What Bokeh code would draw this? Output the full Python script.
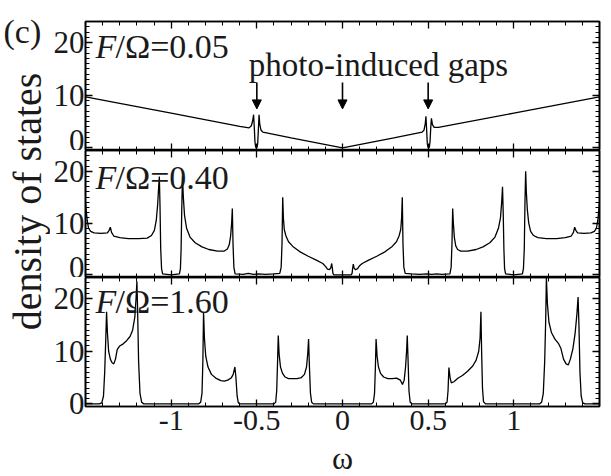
import math
from bokeh.plotting import figure
from bokeh.models import (Label, Arrow, NormalHead, LinearAxis, FixedTicker, Range1d,
                          CustomLabelingPolicy)
from bokeh.layouts import row, column
from bokeh.embed import file_html
from bokeh.resources import INLINE

# ---------------- data ----------------
x_major = [-1, -0.5, 0, 0.5, 1]
x_major_labels = ["-1", "-0.5", "0", "0.5", "1"]
x_minor = [round(-1.4 + 0.1 * i, 1) for i in range(29)]
y_major = [0, 10, 20]
y_minor = list(range(0, 25))

panel_ratios = ["0.05", "0.40", "1.60"]

# panel 1: F/Omega = 0.05
p1_omega = [-1.5, -1.0, -0.6, -0.545, -0.532, -0.524, -0.519, -0.515, -0.511, -0.507, -0.503,
            -0.499, -0.495, -0.491, -0.487, -0.483, -0.476, -0.465, -0.3, 0.0, 0.3, 0.465,
            0.476, 0.483, 0.487, 0.491, 0.495, 0.499, 0.503, 0.507, 0.511, 0.515, 0.519,
            0.525, 0.535, 0.56, 1.0, 1.5]
p1_dos = [9.7, 6.6, 4.1, 3.8, 4.2, 5.2, 6.3, 4.0, 1.2, 0.2, 0.0,
          0.1, 0.8, 3.5, 6.3, 4.5, 3.4, 3.0, 1.9, 0.0, 1.9, 3.0,
          3.4, 4.6, 6.0, 3.5, 0.8, 0.1, 0.0, 0.2, 1.2, 3.8, 5.6,
          4.4, 3.9, 3.9, 6.6, 9.7]

# panel 2: F/Omega = 0.40
p2_omega = [-1.5, -1.496, -1.49, -1.482, -1.47, -1.45, -1.41, -1.372, -1.362, -1.355, -1.348,
            -1.335, -1.30, -1.25, -1.19, -1.14, -1.115, -1.098, -1.087, -1.079, -1.073, -1.069,
            -1.065, -1.061, -1.056, -1.05, -1.0, -0.952, -0.946, -0.942, -0.938, -0.934, -0.929,
            -0.922, -0.91, -0.89, -0.86, -0.82, -0.78, -0.73, -0.69, -0.672, -0.661, -0.653,
            -0.647, -0.643, -0.639, -0.634, -0.627, -0.58, -0.55, -0.52, -0.49, -0.45, -0.40,
            -0.366, -0.358, -0.353, -0.349, -0.345, -0.34, -0.33, -0.315, -0.29, -0.25, -0.2,
            -0.15, -0.115, -0.098, -0.088, -0.076, -0.068, -0.063, -0.059, -0.056, -0.05, 0.0,
            0.05, 0.056, 0.059, 0.063, 0.068, 0.076, 0.088, 0.098, 0.115, 0.15, 0.2,
            0.25, 0.29, 0.315, 0.33, 0.34, 0.345, 0.349, 0.353, 0.358, 0.366, 0.40,
            0.45, 0.49, 0.52, 0.55, 0.58, 0.627, 0.634, 0.639, 0.643, 0.647, 0.653,
            0.661, 0.672, 0.69, 0.73, 0.78, 0.82, 0.86, 0.89, 0.91, 0.922, 0.929,
            0.934, 0.938, 0.942, 0.946, 0.952, 1.0, 1.05, 1.056, 1.061, 1.065, 1.069,
            1.073, 1.079, 1.087, 1.098, 1.115, 1.14, 1.19, 1.25, 1.30, 1.335, 1.348,
            1.355, 1.362, 1.372, 1.41, 1.45, 1.47, 1.482, 1.49, 1.496, 1.5]
p2_dos = [14.0, 12.5, 10.5, 9.0, 8.4, 8.1, 8.0, 8.1, 8.6, 9.2, 8.2,
          7.5, 7.2, 7.0, 7.0, 7.1, 7.6, 8.6, 10.5, 13.5, 17.0, 19.0,
          13.0, 5.0, 1.2, 0.2, 0.0, 0.2, 1.2, 5.0, 13.0, 19.0, 15.0,
          11.5, 9.0, 7.3, 6.2, 5.4, 4.9, 4.6, 4.6, 5.0, 5.8, 7.5,
          10.0, 12.8, 6.0, 1.5, 0.2, 0.1, 0.3, 0.1, 0.2, 0.1, 0.2,
          0.3, 1.5, 6.0, 15.0, 11.0, 8.8, 7.5, 6.4, 5.5, 4.5, 3.6,
          2.8, 2.2, 1.6, 1.1, 1.0, 1.4, 2.2, 1.2, 0.3, 0.0, 0.0,
          0.0, 0.3, 1.2, 2.1, 1.3, 1.0, 1.2, 1.7, 2.2, 2.8, 3.6,
          4.5, 5.5, 6.4, 7.5, 8.8, 11.0, 15.0, 6.0, 1.5, 0.3, 0.2,
          0.1, 0.2, 0.1, 0.2, 0.1, 0.2, 1.5, 6.0, 12.8, 10.0, 7.2,
          5.6, 4.9, 4.6, 4.6, 4.9, 5.4, 6.2, 7.3, 9.0, 11.0, 14.0,
          17.0, 12.0, 5.0, 1.2, 0.2, 0.0, 0.2, 1.2, 5.0, 14.0, 20.0,
          16.0, 12.5, 10.0, 8.4, 7.6, 7.2, 7.0, 7.0, 7.2, 7.5, 8.2,
          9.2, 8.6, 8.1, 8.0, 8.1, 8.4, 9.0, 10.5, 12.5, 14.0]

# panel 3: F/Omega = 1.60
p3_omega = [-1.5, -1.42, -1.405, -1.395, -1.388, -1.382, -1.377, -1.372, -1.365, -1.355, -1.345,
            -1.335, -1.325, -1.315, -1.30, -1.28, -1.26, -1.24, -1.225, -1.212, -1.205, -1.2,
            -1.196, -1.19, -1.182, -1.172, -1.16,
            -0.84, -0.828, -0.82, -0.815, -0.811, -0.806, -0.798, -0.785, -0.765, -0.74, -0.71,
            -0.69, -0.67, -0.65, -0.638, -0.628, -0.622, -0.615, -0.608, -0.6,
            -0.4, -0.39, -0.384, -0.379, -0.375, -0.37, -0.362, -0.35, -0.335, -0.315, -0.29,
            -0.265, -0.24, -0.222, -0.21, -0.203, -0.198, -0.193, -0.187, -0.18, -0.17,
            0.17, 0.18, 0.187, 0.192, 0.196, 0.202, 0.21, 0.222, 0.24, 0.265, 0.29,
            0.315, 0.338, 0.35, 0.36, 0.368, 0.374, 0.378, 0.383, 0.388, 0.395, 0.405,
            0.6, 0.61, 0.616, 0.621, 0.628, 0.635, 0.65, 0.675, 0.7, 0.73, 0.76,
            0.78, 0.795, 0.803, 0.808, 0.812, 0.817, 0.823, 0.835,
            1.15, 1.162, 1.172, 1.18, 1.186, 1.19, 1.196, 1.205, 1.22, 1.24, 1.26,
            1.275, 1.29, 1.305, 1.318, 1.33, 1.345, 1.358, 1.368, 1.375, 1.38, 1.386,
            1.393, 1.402, 1.415, 1.5]
p3_dos = [0.0, 0.0, 0.2, 1.5, 6.0, 12.0, 17.5, 13.5, 10.0, 8.5, 7.8,
          7.6, 8.5, 10.3, 11.0, 11.4, 12.0, 12.8, 14.0, 16.5, 20.0, 23.3,
          18.0, 8.0, 2.0, 0.3, 0.0,
          0.0, 0.3, 2.0, 8.0, 17.5, 12.5, 9.0, 7.0, 5.6, 4.9, 4.4,
          4.3, 4.5, 4.9, 5.6, 7.0, 5.0, 1.5, 0.2, 0.0,
          0.0, 0.3, 2.5, 8.0, 13.0, 9.5, 7.0, 5.8, 5.1, 4.8, 4.8,
          4.8, 5.0, 5.6, 7.0, 9.5, 12.3, 7.0, 2.0, 0.3, 0.0,
          0.0, 0.3, 2.0, 7.0, 12.3, 9.0, 7.0, 5.8, 5.1, 4.8, 4.8,
          4.9, 4.5, 3.7, 4.5, 7.0, 10.0, 13.0, 8.0, 2.5, 0.3, 0.0,
          0.0, 0.3, 2.5, 6.9, 5.0, 4.0, 4.2, 4.9, 5.4, 6.2, 7.2,
          8.3, 10.0, 12.5, 17.5, 10.0, 3.0, 0.4, 0.0,
          0.0, 0.3, 2.0, 8.0, 16.0, 24.0, 19.0, 15.5, 13.5, 12.3, 11.5,
          10.5, 8.5, 7.6, 7.4, 8.5, 10.5, 13.5, 17.0, 20.3, 15.0, 6.0,
          1.5, 0.2, 0.0, 0.0]

arrow_omega = [-0.5, 0.0, 0.5]

# ---------------- styling ----------------
SERIF = "Liberation Serif"
TXT = "#1a1a1a"
LEFT_W = 50
PANEL_W = 611 - LEFT_W
X_RANGE = Range1d(-1.5, 1.5)
Y_LO, Y_HI = -0.5, 24.0


def style_axis(ax, show_labels, tick_size="30px"):
    ax.major_tick_in = 7
    ax.major_tick_out = 0
    ax.minor_tick_in = 4
    ax.minor_tick_out = 0
    ax.axis_line_color = "black"
    ax.axis_line_width = 1.6
    ax.major_tick_line_color = "black"
    ax.major_tick_line_width = 1.3
    ax.minor_tick_line_color = "black"
    ax.minor_tick_line_width = 1.0
    if show_labels:
        ax.major_label_text_font = SERIF
        ax.major_label_text_font_size = tick_size
        ax.major_label_text_color = TXT
    else:
        ax.major_label_text_font_size = "0px"
        ax.major_label_standoff = 0
        ax.major_label_policy = CustomLabelingPolicy(code="return []")


def make_panel(omega, dos, ratio, label_y, height, top, bottom, show_x_labels):
    p = figure(width=PANEL_W, height=height, x_range=X_RANGE,
               y_range=Range1d(Y_LO, Y_HI), output_backend="svg",
               toolbar_location=None, x_axis_location=None, y_axis_location=None,
               min_border_left=85 - LEFT_W, min_border_right=12,
               min_border_top=top, min_border_bottom=bottom)
    p.grid.visible = False
    p.outline_line_color = "black"
    p.outline_line_width = 1.6
    p.background_fill_color = "white"
    p.border_fill_color = "white"

    xt = FixedTicker(ticks=x_major, minor_ticks=x_minor)
    yt = FixedTicker(ticks=y_major, minor_ticks=y_minor)

    xb = LinearAxis(ticker=xt)
    style_axis(xb, show_x_labels, "30px")
    if show_x_labels:
        xb.major_label_overrides = dict(zip(x_major, x_major_labels))
        xb.major_label_standoff = 4
    p.add_layout(xb, "below")

    xa = LinearAxis(ticker=xt)
    style_axis(xa, False)
    p.add_layout(xa, "above")

    yl = LinearAxis(ticker=yt)
    style_axis(yl, True, "31px")
    yl.major_label_standoff = 1
    yl.major_label_text_baseline = "alphabetic"
    p.add_layout(yl, "left")

    yr = LinearAxis(ticker=yt)
    style_axis(yr, False)
    p.add_layout(yr, "right")

    p.line(omega, dos, line_color="black", line_width=1.3)

    p.add_layout(Label(x=-1.442, y=label_y, text="F", text_font=SERIF,
                       text_font_style="italic", text_font_size="34px",
                       text_color=TXT))
    p.add_layout(Label(x=-1.442, y=label_y, x_offset=20, text="/Ω=" + ratio,
                       text_font=SERIF, text_font_size="34px", text_color=TXT))
    return p


f1 = make_panel(p1_omega, p1_dos, panel_ratios[0], 15.8, 150, 21, 0, False)
f2 = make_panel(p2_omega, p2_dos, panel_ratios[1], 15.2, 127, 0, 0, False)
f3 = make_panel(p3_omega, p3_dos, panel_ratios[2], 16.0, 171, 0, 42, True)

# annotation in top panel
f1.add_layout(Label(x=0.21, y=12.3, text="photo-induced gaps", text_align="center",
                    text_font=SERIF, text_font_size="33px", text_color=TXT))
for xa_ in arrow_omega:
    f1.add_layout(Arrow(end=NormalHead(size=9, fill_color="black", line_color="black"),
                        x_start=xa_, y_start=12.4, x_end=xa_, y_end=7.4,
                        line_color="black", line_width=1.6))

# strip below the panels holding the x-axis title
fx = figure(width=PANEL_W, height=476 - 150 - 127 - 171, x_range=X_RANGE,
            y_range=Range1d(0, 1), output_backend="svg", toolbar_location=None,
            x_axis_location=None, y_axis_location=None,
            min_border_left=85 - LEFT_W, min_border_right=12,
            min_border_top=0, min_border_bottom=0)
fx.grid.visible = False
fx.outline_line_color = None
fx.border_fill_color = "white"
fx.background_fill_color = "white"
fx.add_layout(Label(x=0.0, y=0.66, text="ω", text_align="center",
                    text_baseline="middle", text_font=SERIF, text_font_size="32px",
                    text_color=TXT))

# left strip with y title and panel tag
lab = figure(width=LEFT_W, height=476, x_range=Range1d(0, 1), y_range=Range1d(0, 1),
             output_backend="svg", toolbar_location=None,
             x_axis_location=None, y_axis_location=None, min_border=0)
lab.grid.visible = False
lab.outline_line_color = None
lab.border_fill_color = "white"
lab.background_fill_color = "white"
lab.add_layout(Label(x=27, y=476 - 201, x_units="screen", y_units="screen",
                     text="density of states", angle=math.pi / 2, text_align="center",
                     text_baseline="middle", text_font=SERIF, text_font_size="40px",
                     text_color=TXT))
lab.add_layout(Label(x=3, y=476 - 12, x_units="screen", y_units="screen", text="(c)",
                     text_baseline="top", text_font=SERIF, text_font_size="34px",
                     text_color=TXT))

layout = row(lab, column(f1, f2, f3, fx))
open("out.html", "w").write(file_html(layout, INLINE))
